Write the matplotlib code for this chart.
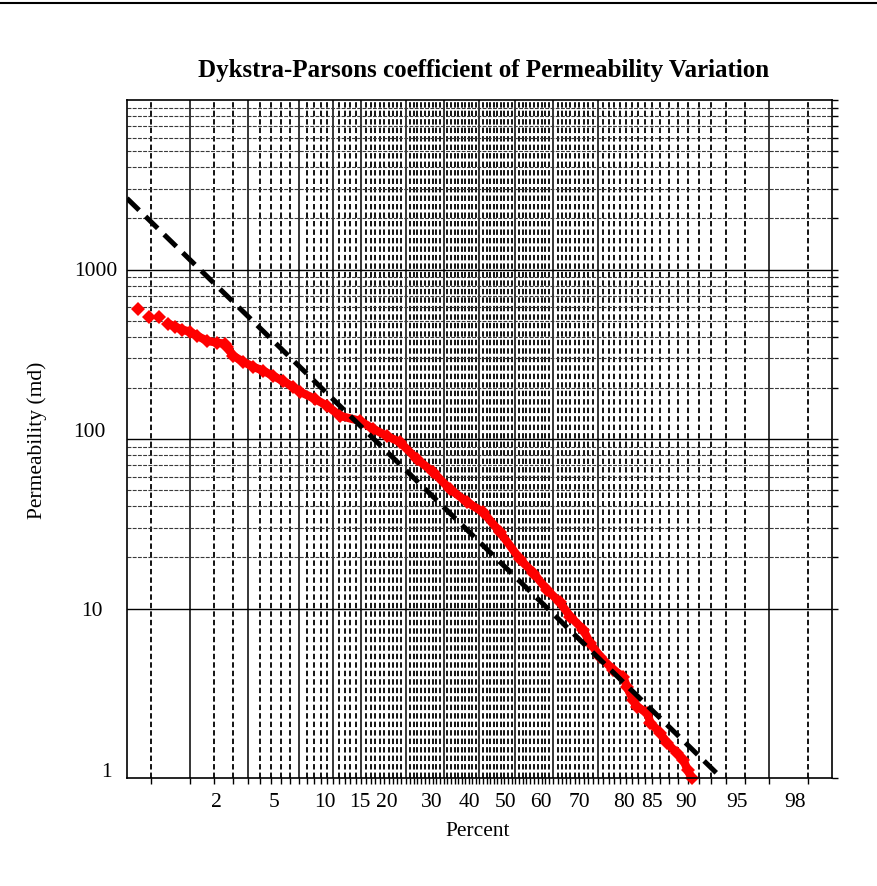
import numpy as np
import matplotlib
matplotlib.use("Agg")
import matplotlib.pyplot as plt
from matplotlib.ticker import FixedLocator, NullFormatter
import matplotlib.transforms as mtransforms
from matplotlib.lines import Line2D
from statistics import NormalDist

# ---------------- data ----------------
percent = [0.77, 0.95, 1.15, 1.36, 1.54, 1.74, 2.0, 2.25, 2.66, 3.13,
           3.55, 3.66, 4.02, 4.68, 5.41, 6.24, 7.15, 8.17, 9.30, 10.15,
           12.2, 14.0, 16.1, 19.8, 22.5, 25.6, 28.6, 32.9, 37.1, 41.7,
           46.5, 51.0, 55.8, 61.3, 64.8, 68.4, 71.6, 74.0, 76.9, 78.3,
           80.4, 82.8, 84.6, 85.2, 86.2, 86.8, 88.3, 88.7, 90.0, 90.8,
           91.9, 92.6, 93.0, 93.4]
permeability = [588, 527, 527, 479, 460, 442, 430, 407, 380, 370,
                365, 350, 310, 286, 267, 253, 236, 220, 203, 190,
                172, 157, 137, 128, 115, 104, 96, 76, 63.8, 50.6,
                42.4, 37.0, 28.2, 19.5, 16.3, 12.9, 10.85, 8.97, 7.51, 6.29,
                5.20, 4.36, 3.96, 3.45, 2.89, 2.63, 2.43, 2.12, 1.85, 1.61,
                1.41, 1.28, 1.11, 1.0]

fit_percent = [0.62, 95.7]
fit_perm = [2630, 1.0]

grid_percent = list(range(1, 100))
solid_percent = [2, 5, 10, 15, 20, 30, 40, 50, 60, 70, 80, 98]
xtick_percent = [2, 5, 10, 15, 20, 30, 40, 50, 60, 70, 80, 85, 90, 95, 98]
xtick_labels = ["2", "5", "10", "15", "20", "30", "40", "50", "60", "70",
                "80", "85", "90", "95", "98"]
ytick_values = [1, 10, 100, 1000]
ytick_labels = ["1", "10", "100", "1000"]

title = "Dykstra-Parsons coefficient of Permeability Variation"
xlabel = "Percent"
ylabel = "Permeability (md)"

# ---------------- style ----------------
plt.rcParams['font.family'] = ['Liberation Serif', 'DejaVu Serif']
FS = 15.5

W, H = 878, 886
fig = plt.figure(figsize=(W / 100, H / 100), dpi=100)
L, R, T, B = 127, 832, 100, 778
ax = fig.add_axes([L / W, 1 - B / H, (R - L) / W, (B - T) / H])

nd = NormalDist()


def fwd(p):
    p = np.clip(np.asarray(p, dtype=float), 1e-6, 100 - 1e-6)
    return np.vectorize(lambda v: nd.inv_cdf(v / 100.0), otypes=[float])(p)


def inv(z):
    return np.vectorize(lambda v: nd.cdf(v) * 100.0, otypes=[float])(np.asarray(z, dtype=float))


ax.set_xscale('function', functions=(fwd, inv))
ax.set_yscale('log')
ax.set_xlim(nd.cdf(-2.5) * 100, nd.cdf(2.5) * 100)
ax.set_ylim(1, 10000)

# vertical grid lines
for p in grid_percent:
    if p in solid_percent:
        ax.axvline(p, color='black', lw=1.1, zorder=1)
    else:
        ax.axvline(p, color='black', lw=1.3, ls=(0, (3.0, 1.7)), zorder=1)

# horizontal grid lines
minor_y = [m * 10 ** e for e in (1, 2, 3) for m in range(2, 10)]
for v in minor_y:
    ax.axhline(v, color='#3a3a3a', lw=0.8, ls=(0, (3.5, 1.2)), zorder=1)
for v in [10, 100, 1000]:
    ax.axhline(v, color='black', lw=1.0, zorder=1.5)

# data
ax.plot(percent[3:], permeability[3:], color='#ff0000', lw=6.0, zorder=3,
        solid_capstyle='round', solid_joinstyle='round', clip_on=False)
ax.plot(percent, permeability, ls='none', marker='D', markersize=7.5,
        color='#ff0000', markeredgewidth=0, zorder=3.5, clip_on=False)
ax.plot(fit_percent, fit_perm, color='black', lw=3.6, ls=(0, (3.4, 1.8)),
        zorder=4)

# ticks
ax.xaxis.set_major_locator(FixedLocator(grid_percent))
labels = [xtick_labels[xtick_percent.index(p)] if p in xtick_percent else ''
          for p in grid_percent]
ax.set_xticklabels(labels, fontsize=FS)
ax.xaxis.set_minor_locator(FixedLocator([]))
ax.tick_params(axis='x', which='major', direction='out', length=4.5, width=1.0,
               pad=6, colors='black')

ax.yaxis.set_major_locator(FixedLocator(ytick_values + [10000]))
ax.set_yticklabels(ytick_labels + [''], fontsize=FS)
ax.yaxis.set_minor_locator(FixedLocator(minor_y))
ax.yaxis.set_minor_formatter(NullFormatter())
ax.tick_params(axis='y', which='both', left=False, right=True,
               labelleft=True, labelright=False, direction='out',
               length=4.5, width=1.0)
ax.tick_params(axis='y', which='major', pad=2.5)

# label offsets as in the reference
off_x = mtransforms.ScaledTranslation(26 / 100, 0, fig.dpi_scale_trans)
for lbl in ax.get_xticklabels():
    lbl.set_transform(lbl.get_transform() + off_x)

y_off = {"1000": (0, 0), "100": (-12, 9), "10": (-15, 0), "1": (-5, 8)}
for lbl in ax.get_yticklabels():
    dx, dy = y_off.get(lbl.get_text(), (0, 0))
    lbl.set_transform(lbl.get_transform() +
                      mtransforms.ScaledTranslation(dx / 100, dy / 100, fig.dpi_scale_trans))

for s in ax.spines.values():
    s.set_color('black')
    s.set_linewidth(1.2)
    s.set_zorder(5)

# texts
fig.text(484 / W, 1 - 71 / H, title, ha='center', va='center',
         fontsize=18, fontweight='bold')
fig.text(478 / W, 1 - 831 / H, xlabel, ha='center', va='center', fontsize=FS)
fig.text(37 / W, 1 - 440 / H, ylabel, ha='center', va='center',
         rotation=90, fontsize=FS)

# top border line of the image
fig.add_artist(Line2D([0, 1], [1 - 3 / H, 1 - 3 / H], transform=fig.transFigure,
                      color='black', lw=1.5))

fig.savefig('out.png', dpi=100)
